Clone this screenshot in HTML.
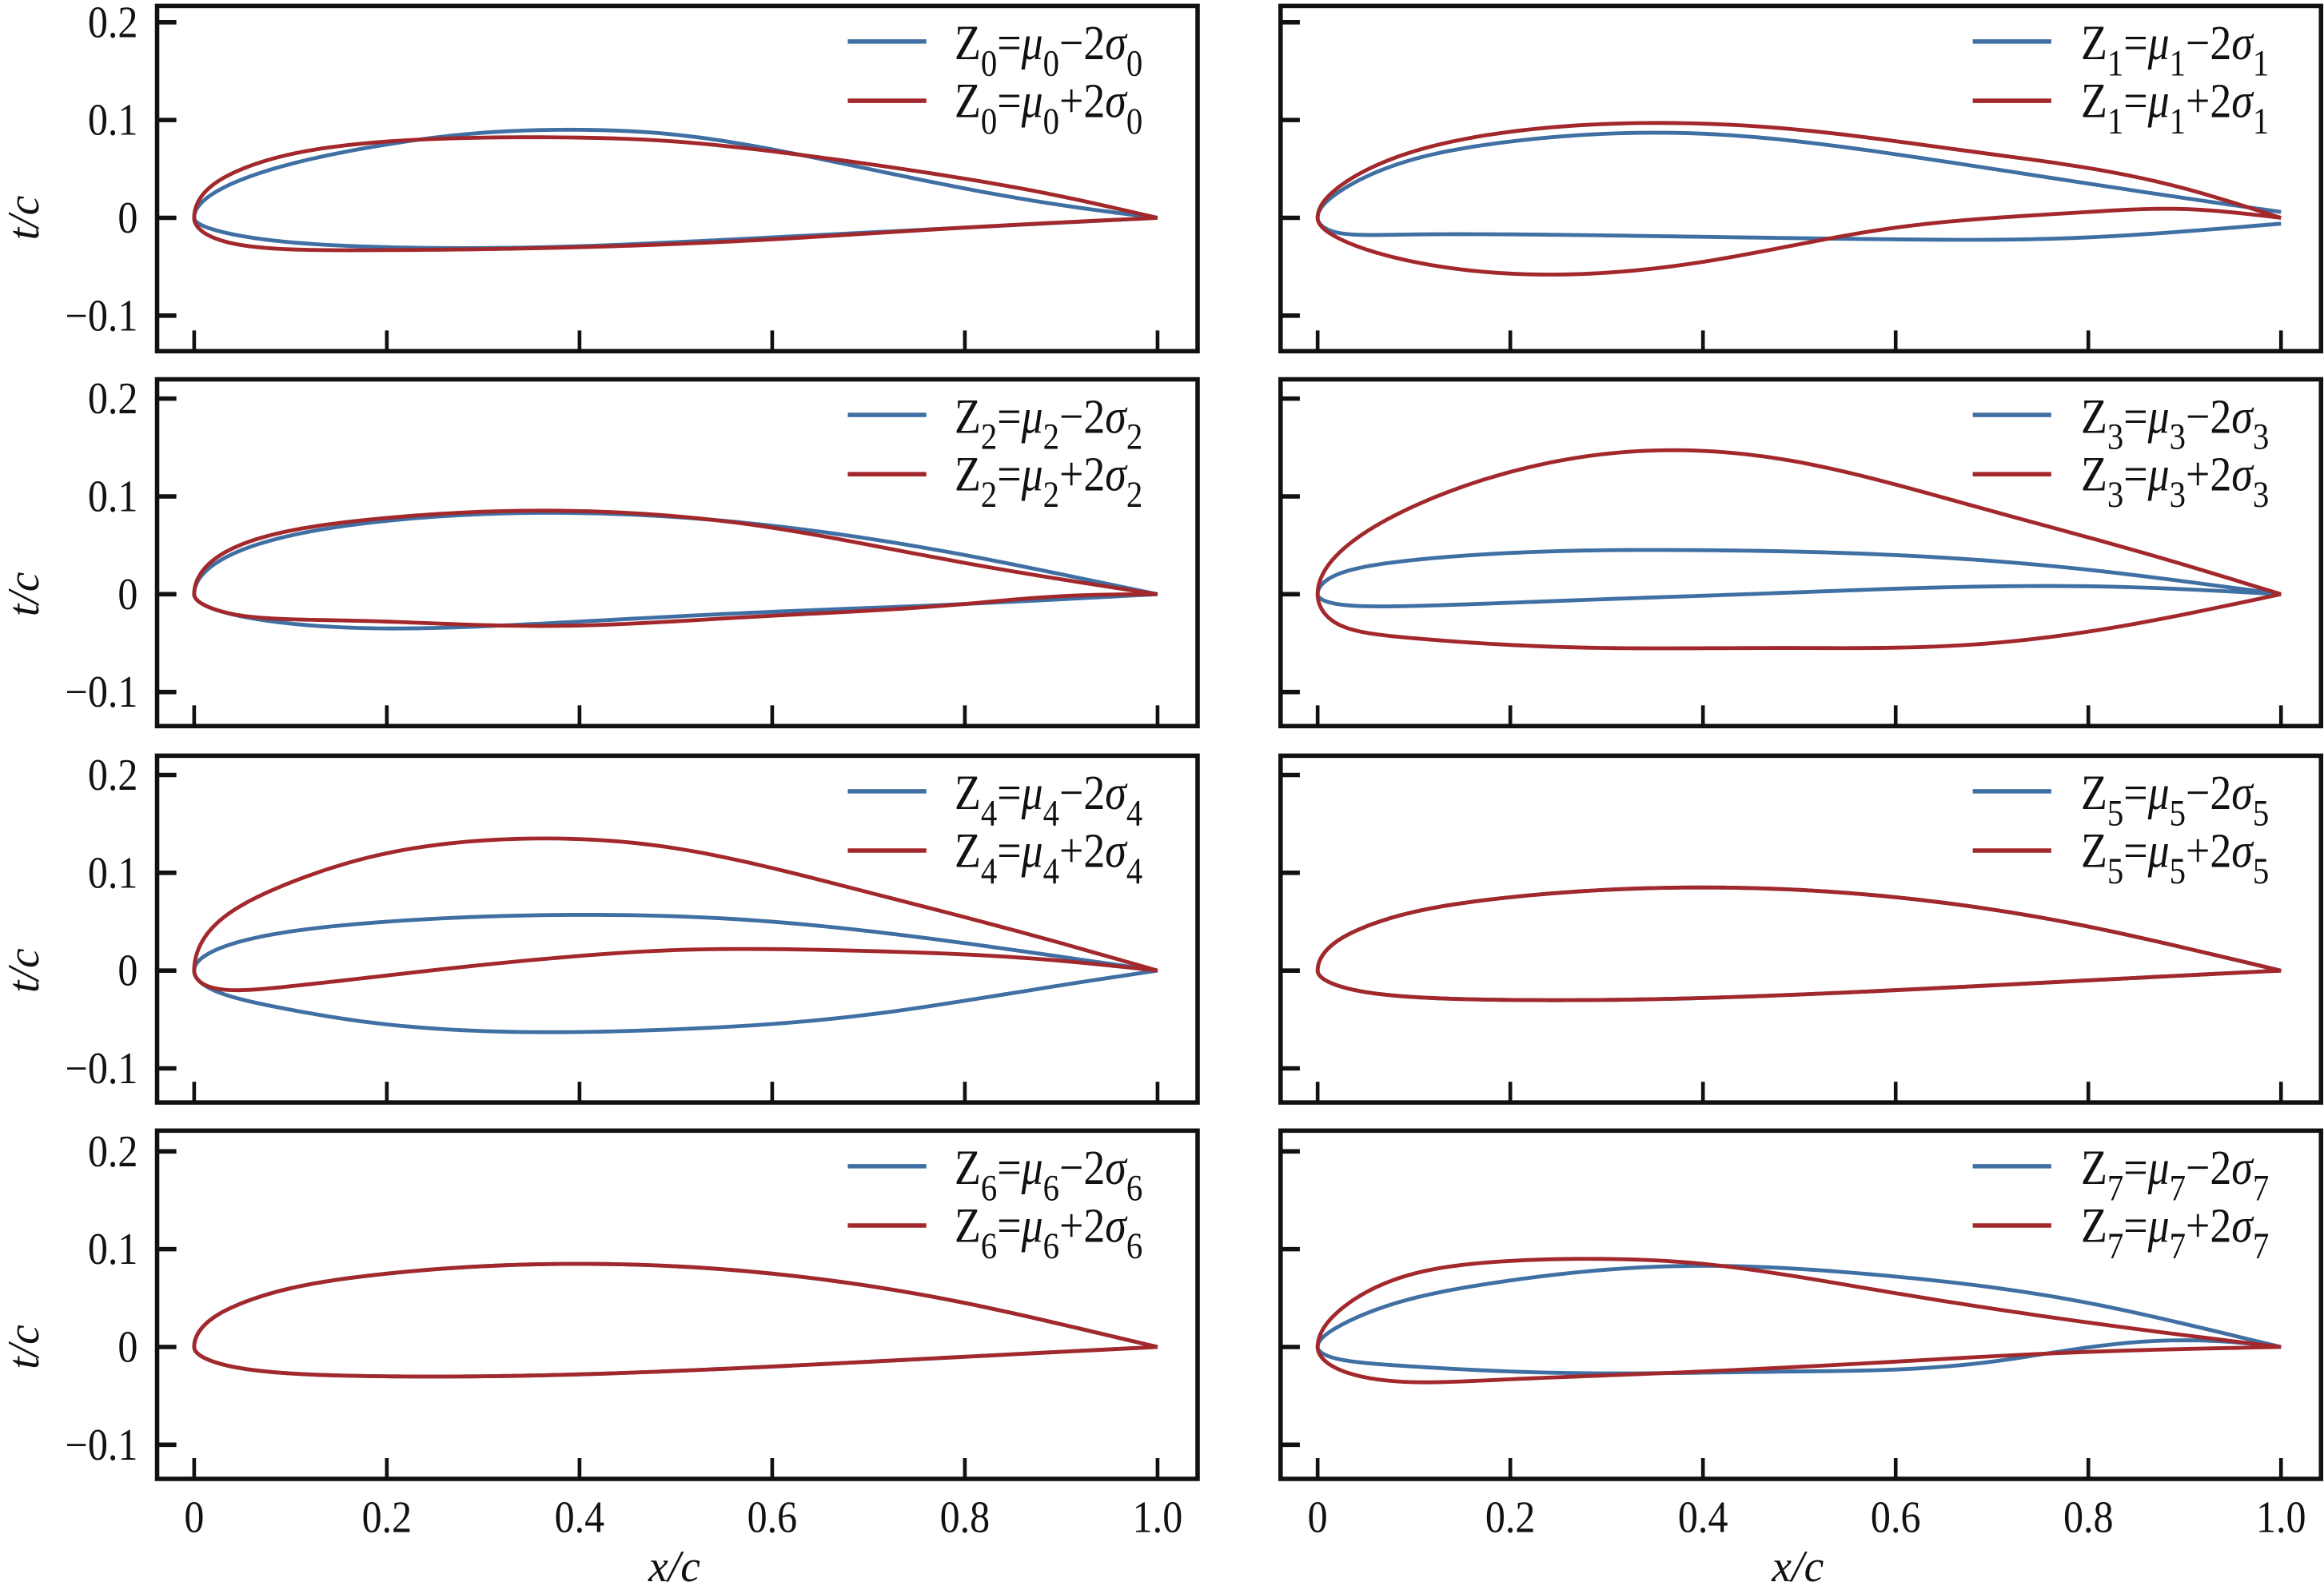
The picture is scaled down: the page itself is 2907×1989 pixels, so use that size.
<!DOCTYPE html>
<html><head><meta charset="utf-8">
<style>
html,body{margin:0;padding:0;background:#fff;}
svg{display:block;}
text{font-family:"Liberation Serif","Times New Roman",serif;fill:#111;}
</style></head>
<body>
<svg id="s" width="2907" height="1989" viewBox="0 0 1568 1073" preserveAspectRatio="none" xmlns="http://www.w3.org/2000/svg"></svg>
<script>
var S=document.getElementById('s');
var out='';
var BL='#3f6fa3', RD='#a3282b';
var cols=[{L:106,R:808,x0:131},{L:864,R:1566,x0:889}];
var rows=[{T:4,B:237,y0:147},{T:256,B:490,y0:401},{T:510,B:744,y0:655},{T:763,B:998,y0:909}];
var D=[
 {b:[[[0.02,0.025],[0.1,0.055],[0.2,0.075],[0.3,0.087],[0.4,0.09],[0.5,0.085],[0.6,0.07],[0.7,0.05],[0.8,0.03],[0.9,0.013]],
     [[0.02,-0.012],[0.1,-0.025],[0.2,-0.03],[0.4,-0.029],[0.6,-0.02],[0.8,-0.01]]],
  r:[[[0.01,0.025],[0.05,0.05],[0.1,0.065],[0.2,0.078],[0.3,0.082],[0.4,0.082],[0.5,0.078],[0.6,0.068],[0.7,0.055],[0.8,0.04],[0.9,0.022]],
     [[0.01,-0.015],[0.05,-0.028],[0.2,-0.033],[0.4,-0.03],[0.6,-0.022],[0.8,-0.01]]]},
 {b:[[[0.02,0.025],[0.1,0.06],[0.2,0.078],[0.3,0.086],[0.4,0.086],[0.5,0.078],[0.6,0.065],[0.8,0.035],[1,0.006]],
     [[0.02,-0.015],[0.1,-0.017],[0.3,-0.018],[0.6,-0.022],[0.8,-0.02],[1,-0.006]]],
  r:[[[0.02,0.03],[0.1,0.068],[0.2,0.088],[0.35,0.097],[0.5,0.09],[0.7,0.065],[0.9,0.03]],
     [[0.02,-0.02],[0.1,-0.045],[0.25,-0.058],[0.4,-0.045],[0.5,-0.027],[0.6,-0.01],[0.8,0.006],[0.9,0.009]]]},
 {b:[[[0.02,0.03],[0.1,0.06],[0.2,0.075],[0.4,0.083],[0.6,0.07],[0.8,0.04]],
     [[0.02,-0.015],[0.1,-0.03],[0.2,-0.035],[0.4,-0.028],[0.6,-0.018],[0.8,-0.01]]],
  r:[[[0.02,0.035],[0.1,0.065],[0.2,0.078],[0.4,0.085],[0.6,0.068],[0.8,0.032]],
     [[0.02,-0.015],[0.05,-0.022],[0.2,-0.028],[0.4,-0.032],[0.6,-0.022],[0.8,-0.01],[0.9,-0.002]]]},
 {b:[[[0.02,0.02],[0.1,0.035],[0.3,0.045],[0.4,0.045],[0.6,0.04],[0.8,0.025]],
     [[0.02,-0.01],[0.1,-0.012],[0.3,-0.005],[0.5,0.002],[0.7,0.008],[0.85,0.007]]],
  r:[[[0.02,0.04],[0.1,0.09],[0.2,0.125],[0.35,0.147],[0.5,0.135],[0.7,0.085],[0.9,0.03]],
     [[0.02,-0.03],[0.1,-0.045],[0.3,-0.055],[0.5,-0.055],[0.7,-0.05],[0.85,-0.03]]]},
 {b:[[[0.02,0.02],[0.1,0.04],[0.2,0.05],[0.4,0.057],[0.6,0.05],[0.8,0.028]],
     [[0.02,-0.02],[0.1,-0.04],[0.2,-0.055],[0.37,-0.063],[0.5,-0.06],[0.7,-0.045],[0.9,-0.015]]],
  r:[[[0.02,0.045],[0.1,0.09],[0.2,0.12],[0.35,0.135],[0.5,0.125],[0.7,0.08],[0.9,0.028]],
     [[0.01,-0.014],[0.04,-0.02],[0.1,-0.016],[0.2,-0.005],[0.4,0.015],[0.5,0.021],[0.7,0.02],[0.9,0.01]]]},
 {b:[[[0.02,0.03],[0.05,0.045],[0.1,0.06],[0.2,0.075],[0.4,0.085],[0.6,0.075],[0.8,0.045]],
     [[0.02,-0.015],[0.05,-0.022],[0.2,-0.03],[0.4,-0.028],[0.6,-0.02],[0.8,-0.01]]]},
 null,
 {b:[[[0.02,0.02],[0.1,0.05],[0.2,0.068],[0.4,0.083],[0.6,0.072],[0.8,0.045]],
     [[0.02,-0.012],[0.1,-0.02],[0.3,-0.027],[0.5,-0.025],[0.7,-0.015],[0.85,0.005],[0.95,0.005]]],
  r:[[[0.02,0.035],[0.1,0.075],[0.2,0.088],[0.3,0.09],[0.4,0.085],[0.6,0.055],[0.8,0.025]],
     [[0.02,-0.022],[0.1,-0.036],[0.2,-0.033],[0.4,-0.025],[0.6,-0.015],[0.8,-0.005]]]}
];
D[5].r=D[5].b; D[6]={b:D[5].b,r:D[5].b};
function spline(xs,ys){
 var n=xs.length, a=ys.slice(), h=[], al=[], l=[1], mu=[0], z=[0], c=new Array(n).fill(0), b=[], d=[];
 for(var i=0;i<n-1;i++) h[i]=xs[i+1]-xs[i];
 for(var i=1;i<n-1;i++) al[i]=3/h[i]*(a[i+1]-a[i])-3/h[i-1]*(a[i]-a[i-1]);
 for(var i=1;i<n-1;i++){l[i]=2*(xs[i+1]-xs[i-1])-h[i-1]*mu[i-1];mu[i]=h[i]/l[i];z[i]=(al[i]-h[i-1]*z[i-1])/l[i];}
 l[n-1]=1;z[n-1]=0;
 for(var j=n-2;j>=0;j--){c[j]=z[j]-mu[j]*c[j+1];b[j]=(a[j+1]-a[j])/h[j]-h[j]*(c[j+1]+2*c[j])/3;d[j]=(c[j+1]-c[j])/(3*h[j]);}
 return function(x){var j=0;while(j<n-2&&x>xs[j+1])j++;var dx=x-xs[j];return a[j]+b[j]*dx+c[j]*dx*dx+d[j]*dx*dx*dx;};
}
function surf(pts){
 var p=pts.slice(); if(p[p.length-1][0]!==1)p.push([1,0]);
 p.unshift([0,0]);
 var f=spline(p.map(function(q){return Math.sqrt(q[0]);}),p.map(function(q){return q[1];}));
 var r=[];for(var i=0;i<=120;i++){var u=i/120;r.push([u*u,f(u)]);}
 return r;
}
function shape(set,x0,y0,color){
 var up=surf(set[0]),lo=surf(set[1]);
 var pts=up.reverse().concat(lo.slice(1));
 var d='M'+pts.map(function(q){return (x0+650*q[0]).toFixed(2)+','+(y0-660*q[1]).toFixed(2);}).join('L');
 return '<path d="'+d+'" fill="none" stroke="'+color+'" stroke-width="2.6" stroke-linejoin="round"/>';
}
function legend(k,x,y,sign){
 var sub='<tspan font-size="25" y="11">'+k+'</tspan>';
 return '<g transform="translate('+x+','+y+') scale(0.88,1)"><text x="0" y="0" font-size="33">Z'+sub+'<tspan y="0">=</tspan><tspan y="0" font-style="italic">μ</tspan>'+sub+'<tspan y="0">'+sign+'2</tspan><tspan y="0" font-style="italic">σ</tspan>'+sub+'</text></g>';
}
var yl=[[0.2,'0.2'],[0.1,'0.1'],[0,'0'],[-0.1,'−0.1']];
for(var r=0;r<4;r++)for(var c=0;c<2;c++){
 var C=cols[c],R=rows[r],k=r*2+c;
 out+='<rect x="'+C.L+'" y="'+R.T+'" width="'+(C.R-C.L)+'" height="'+(R.B-R.T)+'" fill="none" stroke="#111" stroke-width="3"/>';
 for(var i=0;i<4;i++){var yy=R.y0-660*yl[i][0];
  out+='<line x1="'+C.L+'" x2="'+(C.L+13)+'" y1="'+yy+'" y2="'+yy+'" stroke="#111" stroke-width="3"/>';
  if(c==0) out+='<text x="0" y="0" font-size="30" text-anchor="end" transform="translate(93,'+(yy+10)+') scale(0.9,1)">'+yl[i][1]+'</text>';
 }
 for(var i=0;i<=5;i++){var xx=C.x0+130*i;
  out+='<line x1="'+xx+'" x2="'+xx+'" y1="'+R.B+'" y2="'+(R.B-14)+'" stroke="#111" stroke-width="2.5"/>';
  if(r==3) out+='<text x="0" y="0" font-size="30" text-anchor="middle" transform="translate('+xx+',1034) scale(0.9,1)">'+(i==0?'0':i==5?'1.0':(0.2*i).toFixed(1))+'</text>';
 }
 var lx=c==0?572:1331, tx=c==0?644:1404;
 out+='<line x1="'+lx+'" x2="'+(lx+53)+'" y1="'+(R.T+24)+'" y2="'+(R.T+24)+'" stroke="'+BL+'" stroke-width="3"/>';
 out+='<line x1="'+lx+'" x2="'+(lx+53)+'" y1="'+(R.T+64)+'" y2="'+(R.T+64)+'" stroke="'+RD+'" stroke-width="3"/>';
 out+=legend(k,tx,R.T+36,'−');
 out+=legend(k,tx,R.T+75,'+');
 out+=shape(D[k].b,C.x0,R.y0,BL);
 out+=shape(D[k].r,C.x0,R.y0,RD);
 if(c==0) out+='<text transform="translate(26,'+R.y0+') rotate(-90)" font-size="30" font-style="italic" text-anchor="middle">t/c</text>';
}
out+='<text x="455" y="1067" font-size="30" font-style="italic" text-anchor="middle">x/c</text>';
out+='<text x="1213" y="1067" font-size="30" font-style="italic" text-anchor="middle">x/c</text>';
S.innerHTML=out;
</script>
</body></html>
